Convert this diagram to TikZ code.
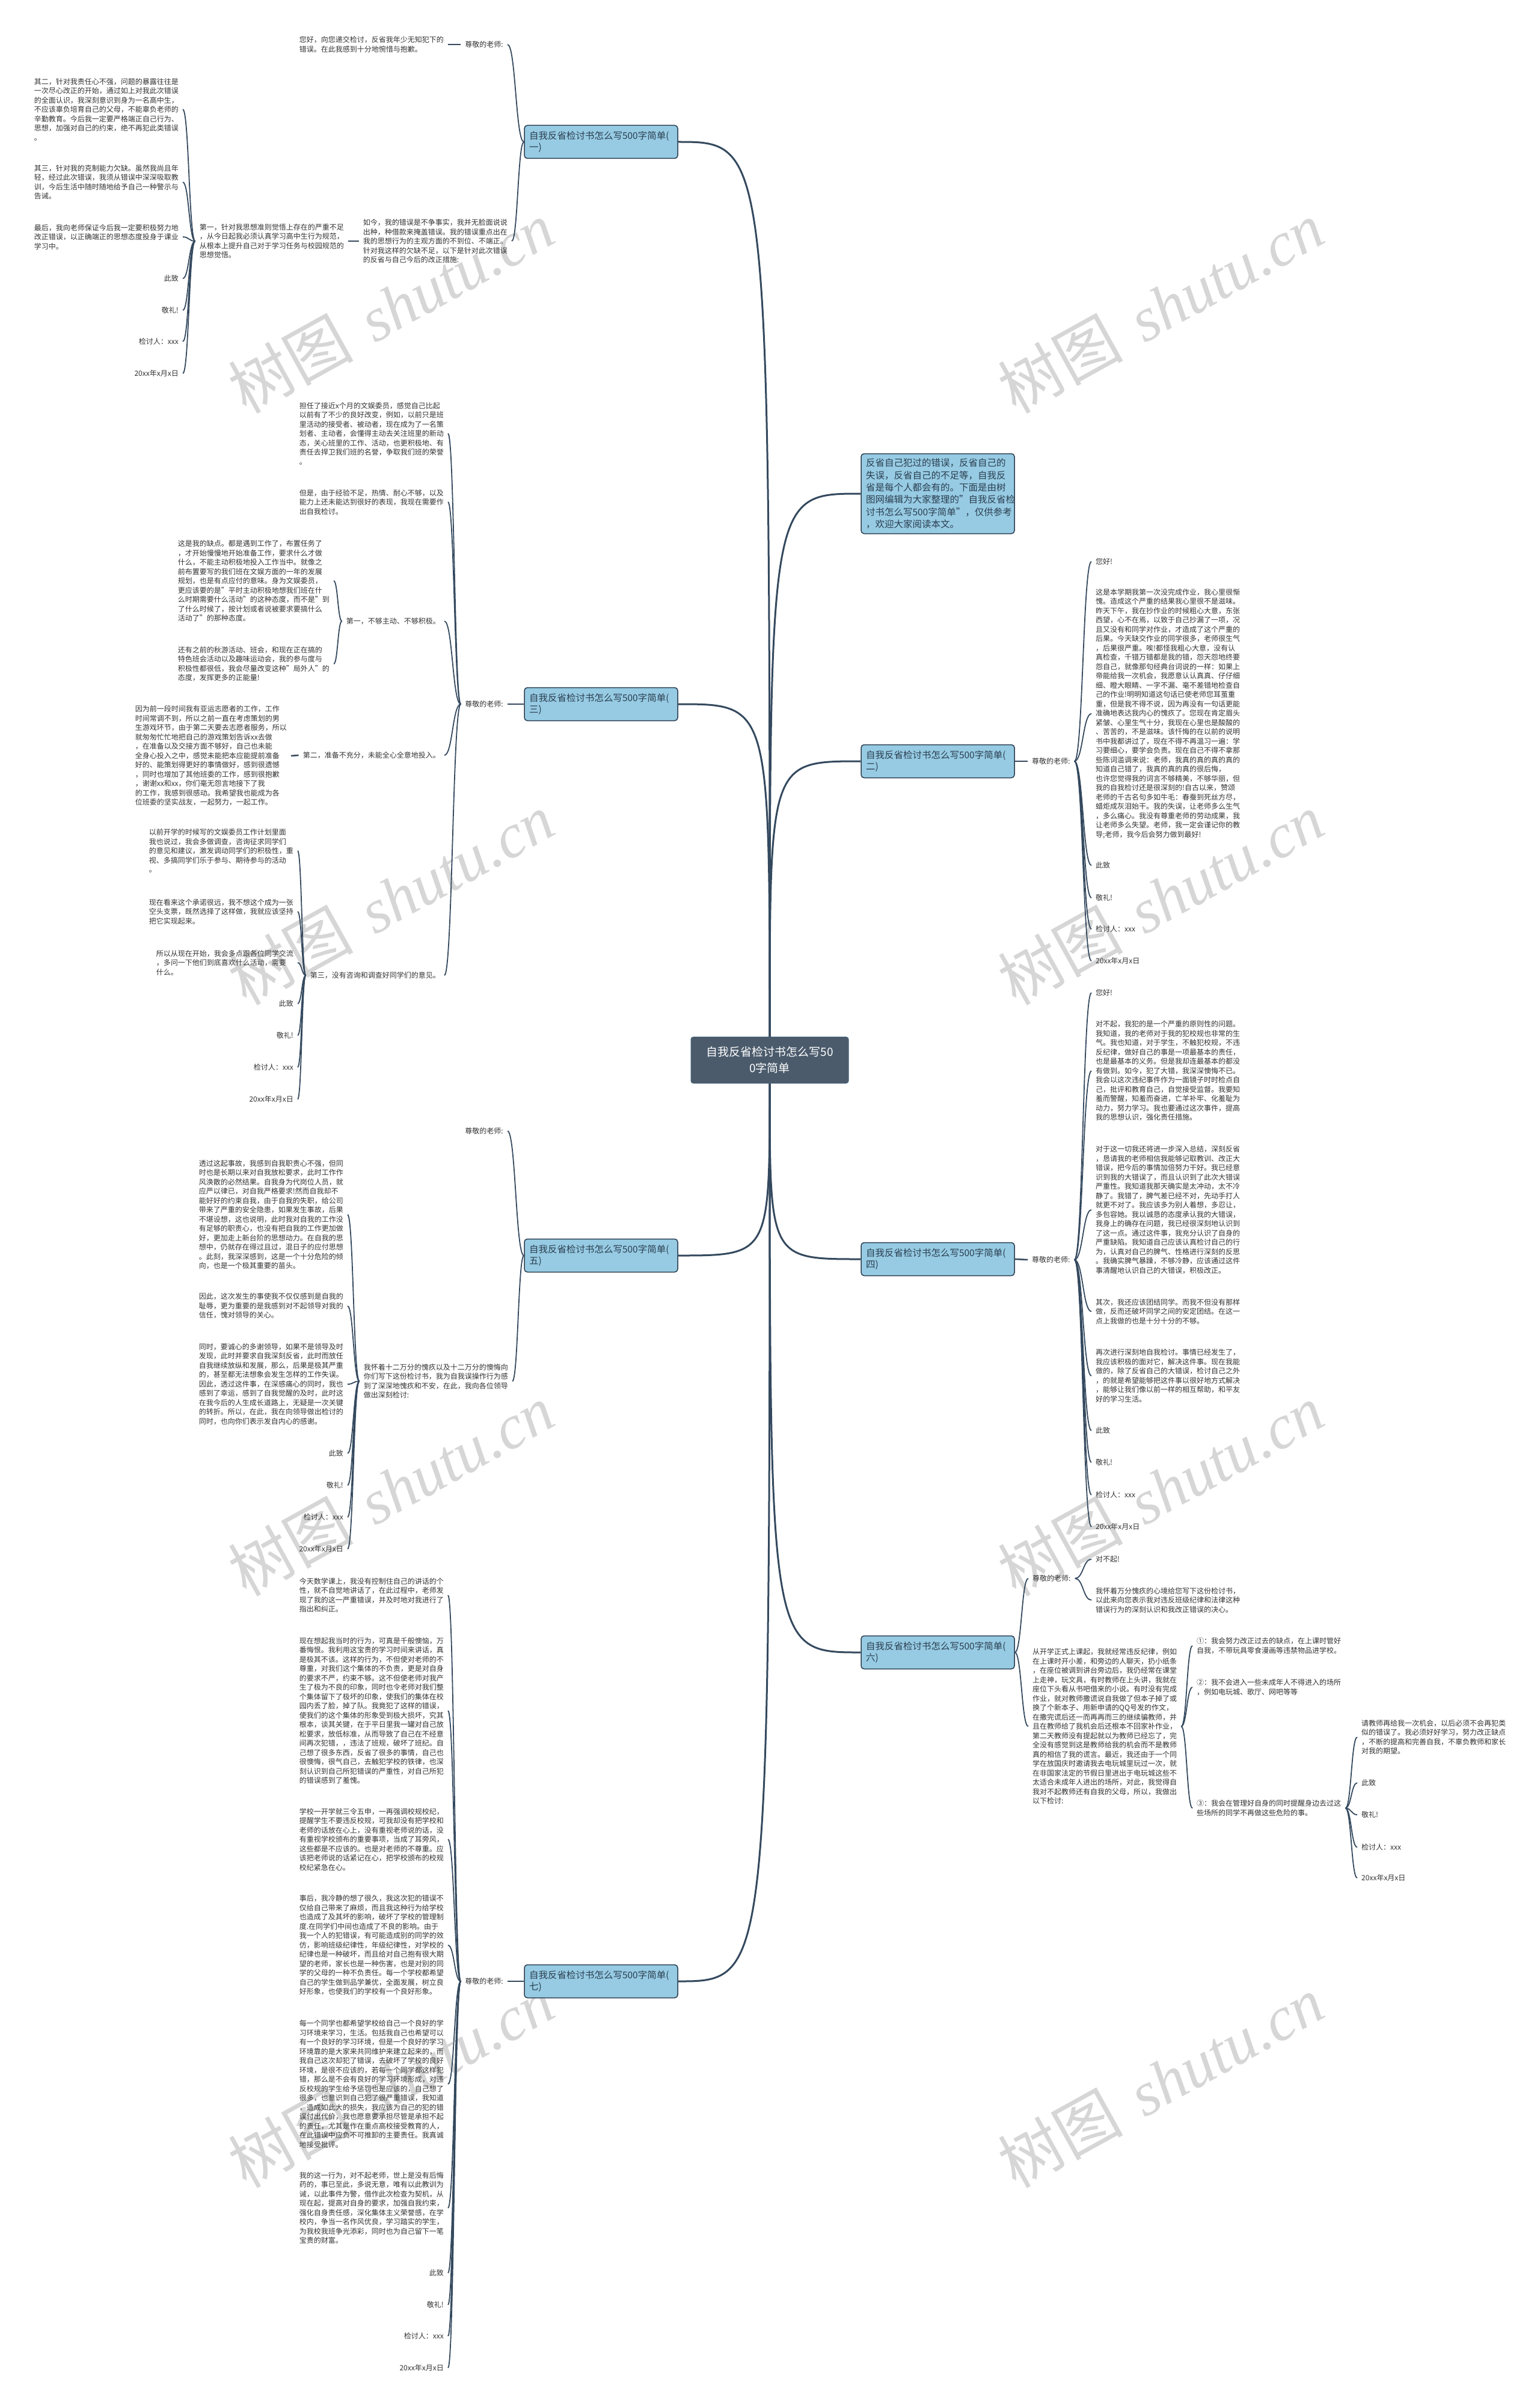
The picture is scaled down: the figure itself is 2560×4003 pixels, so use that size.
\documentclass[tikz,border=0pt]{standalone}
\usepackage{fontspec}
\setmainfont{Noto Sans CJK SC}
\newfontfamily\wmlat{Liberation Serif}
\usetikzlibrary{calc}
\definecolor{lc}{HTML}{34495E}
\definecolor{rootfill}{HTML}{4B5B6C}
\definecolor{bfill}{HTML}{96CBE3}
\definecolor{bdraw}{HTML}{2C3E50}
\definecolor{tc}{HTML}{333333}
\definecolor{wmc}{HTML}{D6D6D6}
\newcommand\sconn[2]{\draw[subc] let \p1=(#1), \p2=(#2) in (\p1) .. controls ({0.5*\x1+0.5*\x2},\y1) and ({0.5*\x1+0.5*\x2},\y2) .. (\p2);}
\begin{document}
\begin{tikzpicture}[x=1pt,y=-1pt,
  txt/.style={inner xsep=7pt, inner ysep=1pt, align=left, text=tc, font=\fontsize{12}{15.5}\selectfont},
  lt/.style={txt, anchor=east},
  rt/.style={txt, anchor=west},
  bbox/.style={draw=bdraw, line width=1.5pt, fill=bfill, rounded corners=5pt, minimum width=255pt, minimum height=55pt, text width=239pt, inner xsep=8pt, inner ysep=6pt, align=left, text=bdraw, font=\fontsize{15.5}{19}\selectfont},
  rootbox/.style={draw=bdraw!70!bfill, line width=1pt, fill=rootfill, rounded corners=4pt, minimum width=262pt, minimum height=77pt, align=center, text=white, font=\fontsize{19}{27}\selectfont},
  mainc/.style={draw=lc, line width=3pt},
  subc/.style={draw=lc, line width=1.8pt},
  stub/.style={draw=lc, line width=2.5pt},
  wm/.style={text=wmc, font=\fontsize{104}{104}\selectfont, rotate=29, inner sep=0pt}
]
\useasboundingbox (0,0) rectangle (2560,4003);
\fill[white] (0,0) rectangle (2560,4003);

% watermarks
\foreach \wx in {650,1930} {
  \foreach \wy in {511,1495,2478,3462} {
    \node[wm] at (\wx,\wy) {树图\hspace{0.35em}{\wmlat\itshape shutu.cn}};
  }
}

% root and branches
\node[rootbox] (root) at (1280,1763) {自我反省检讨书怎么写50\\0字简单};
\node[bbox] (b1) at (999.5,236) {自我反省检讨书怎么写500字简单(\\一)};
\node[bbox] (b3) at (999.5,1171) {自我反省检讨书怎么写500字简单(\\三)};
\node[bbox] (b5) at (999.5,2088) {自我反省检讨书怎么写500字简单(\\五)};
\node[bbox] (b7) at (999.5,3295) {自我反省检讨书怎么写500字简单(\\七)};
\node[bbox, minimum height=133pt, font=\fontsize{15.5}{20.4}\selectfont] (bi) at (1559.5,821) {反省自己犯过的错误，反省自己的\\失误，反省自己的不足等，自我反\\省是每个人都会有的。下面是由树\\图网编辑为大家整理的"自我反省检\\讨书怎么写500字简单"，仅供参考\\，欢迎大家阅读本文。};
\node[bbox] (b2) at (1559.5,1266) {自我反省检讨书怎么写500字简单(\\二)};
\node[bbox] (b4) at (1559.5,2094) {自我反省检讨书怎么写500字简单(\\四)};
\node[bbox] (b6) at (1559.5,2748) {自我反省检讨书怎么写500字简单(\\六)};

\draw[mainc] (root.north) .. controls (root.north |- b1.east) .. (b1.east);
\draw[mainc] (root.north) .. controls (root.north |- b3.east) .. (b3.east);
\draw[mainc] (root.north) .. controls (root.north |- bi.west) .. (bi.west);
\draw[mainc] (root.north) .. controls (root.north |- b2.west) .. (b2.west);
\draw[mainc] (root.south) .. controls (root.south |- b4.west) .. (b4.west);
\draw[mainc] (root.south) .. controls (root.south |- b5.east) .. (b5.east);
\draw[mainc] (root.south) .. controls (root.south |- b6.west) .. (b6.west);
\draw[mainc] (root.south) .. controls (root.south |- b7.east) .. (b7.east);

% ---------- branch 1 ----------
\node[lt] (n1a) at (844,74) {尊敬的老师:};
\node[lt] (n1a1) at (745,74) {您好，向您递交检讨，反省我年少无知犯下的\\错误。在此我感到十分地惋惜与抱歉。};
\node[lt] (n1b) at (851,401) {如今，我的错误是不争事实，我并无脸面说说\\出种，种借款来掩盖错误。我的错误重点出在\\我的思想行为的主观方面的不到位、不端正。\\针对我这样的欠缺不足，以下是针对此次错误\\的反省与自己今后的改正措施:};
\node[lt] (n1b1) at (579,401) {第一，针对我思想准则觉悟上存在的严重不足\\，从今日起我必须认真学习高中生行为规范，\\从根本上提升自己对于学习任务与校园规范的\\思想觉悟。};
\node[lt] (p1a) at (304,182) {其二，针对我责任心不强，问题的暴露往往是\\一次尽心改正的开始，通过如上对我此次错误\\的全面认识，我深刻意识到身为一名高中生，\\不应该辜负培育自己的父母，不能辜负老师的\\辛勤教育。今后我一定要严格端正自己行为、\\思想，加强对自己的约束，绝不再犯此类错误\\。};
\node[lt] (p1b) at (304,303) {其三，针对我的克制能力欠缺。虽然我尚且年\\轻，经过此次错误，我须从错误中深深吸取教\\训，今后生活中随时随地给予自己一种警示与\\告诫。};
\node[lt] (p1c) at (304,394) {最后，我向老师保证今后我一定要积极努力地\\改正错误，以正确端正的思想态度投身于课业\\学习中。};
\node[lt] (q1a) at (304,463) {此致};
\node[lt] (q1b) at (304,516) {敬礼!};
\node[lt] (q1c) at (304,568) {检讨人：xxx};
\node[lt] (q1d) at (304,621) {20xx年x月x日};
\sconn{b1.west}{n1a.east}
\sconn{b1.west}{n1b.east}
\draw[stub] (n1a.west) -- (n1a1.east);
\draw[stub] (n1b.west) -- (n1b1.east);
\foreach \c in {p1a,p1b,p1c,q1a,q1b,q1c,q1d} {\sconn{n1b1.west}{\c.east}}

% ---------- branch 3 ----------
\node[lt] (n3a) at (844,1171) {尊敬的老师:};
\node[lt] (p3a) at (745,721) {担任了接近x个月的文娱委员，感觉自己比起\\以前有了不少的良好改变，例如，以前只是班\\里活动的接受者、被动者，现在成为了一名策\\划者、主动者，会懂得主动去关注班里的新动\\态，关心班里的工作、活动，也更积极地、有\\责任去捍卫我们班的名誉，争取我们班的荣誉\\。};
\node[lt] (p3b) at (745,835) {但是，由于经验不足，热情、耐心不够，以及\\能力上还未能达到很好的表现，我现在需要作\\出自我检讨。};
\node[lt] (p3c) at (739,1033) {第一，不够主动、不够积极。};
\node[lt] (p3d) at (739,1256) {第二，准备不充分，未能全心全意地投入。};
\node[lt] (p3e) at (739,1622) {第三，没有咨询和调查好同学们的意见。};
\node[lt] (p3c1) at (555,966) {这是我的缺点。都是遇到工作了，布置任务了\\，才开始慢慢地开始准备工作，要求什么才做\\什么，不能主动积极地投入工作当中。就像之\\前布置要写的我们班在文娱方面的一年的发展\\规划，也是有点应付的意味。身为文娱委员，\\更应该要的是"平时主动积极地想我们班在什\\么时期需要什么活动"的这种态度，而不是"到\\了什么时候了，按计划或者说被要求要搞什么\\活动了"的那种态度。};
\node[lt] (p3c2) at (555,1104) {还有之前的秋游活动、班会，和现在正在搞的\\特色班会活动以及趣味运动会，我的参与度与\\积极性都很低，我会尽量改变这种"局外人"的\\态度，发挥更多的正能量!};
\node[lt] (p3d1) at (484,1257) {因为前一段时间我有亚运志愿者的工作，工作\\时间常调不到，所以之前一直在考虑策划的男\\生游戏环节，由于第二天要去志愿者服务，所以\\就匆匆忙忙地把自己的游戏策划告诉xx去做\\，在准备以及交接方面不够好，自己也未能\\全身心投入之中，感觉未能把本应能提前准备\\好的、能策划得更好的事情做好，感到很遗憾\\，同时也增加了其他班委的工作，感到很抱歉\\，谢谢xx和xx，你们毫无怨言地接下了我\\的工作，我感到很感动。我希望我也能成为各\\位班委的坚实战友，一起努力，一起工作。};
\node[lt] (p3e1) at (495,1415) {以前开学的时候写的文娱委员工作计划里面\\我也说过，我会多做调查，咨询征求同学们\\的意见和建议，激发调动同学们的积极性，重\\视、多搞同学们乐于参与、期待参与的活动\\。};
\node[lt] (p3e2) at (495,1516) {现在看来这个承诺很远，我不想这个成为一张\\空头支票，既然选择了这样做，我就应该坚持\\把它实现起来。};
\node[lt] (p3e3) at (495,1601) {所以从现在开始，我会多点跟各位同学交流\\，多问一下他们到底喜欢什么活动，需要\\什么。};
\node[lt] (q3a) at (495,1669) {此致};
\node[lt] (q3b) at (495,1722) {敬礼!};
\node[lt] (q3c) at (495,1775) {检讨人：xxx};
\node[lt] (q3d) at (495,1828) {20xx年x月x日};
\draw[stub] (b3.west) -- (n3a.east);
\foreach \c in {p3a,p3b,p3c,p3d,p3e} {\sconn{n3a.west}{\c.east}}
\foreach \c in {p3c1,p3c2} {\sconn{p3c.west}{\c.east}}
\draw[stub] (p3d.west) -- (p3d1.east);
\foreach \c in {p3e1,p3e2,p3e3,q3a,q3b,q3c,q3d} {\sconn{p3e.west}{\c.east}}

% ---------- branch 5 ----------
\node[lt] (n5a) at (844,1881) {尊敬的老师:};
\node[lt] (n5b) at (852,2297) {我怀着十二万分的愧疚以及十二万分的懊悔向\\你们写下这份检讨书，我为自我误操作行为感\\到了深深地愧疚和不安，在此，我向各位领导\\做出深刻检讨:};
\node[lt] (p5a) at (578,2020) {透过这起事故，我感到自我职责心不强，但同\\时也是长期以来对自我放松要求，此时工作作\\风涣散的必然结果。自我身为代岗位人员，就\\应严以律已，对自我严格要求!然而自我却不\\能好好的约束自我，由于自我的失职，给公司\\带来了严重的安全隐患，如果发生事故，后果\\不堪设想，这也说明，此时我对自我的工作没\\有足够的职责心，也没有把自我的工作更加做\\好，更加走上新台阶的思想动力。在自我的思\\想中，仍就存在得过且过，混日子的应付思想\\。此刻，我深深感到，这是一个十分危险的倾\\向，也是一个极其重要的苗头。};
\node[lt] (p5b) at (578,2172) {因此，这次发生的事使我不仅仅感到是自我的\\耻辱，更为重要的是我感到对不起领导对我的\\信任，愧对领导的关心。};
\node[lt] (p5c) at (578,2302) {同时，要诚心的多谢领导，如果不是领导及时\\发现，此时并要求自我深刻反省，此时而放任\\自我继续放纵和发展，那么，后果是极其严重\\的，甚至都无法想象会发生怎样的工作失误。\\因此，透过这件事，在深感痛心的同时，我也\\感到了幸运，感到了自我觉醒的及时，此时这\\在我今后的人生成长道路上，无疑是一次关键\\的转折。所以，在此，我在向领导做出检讨的\\同时，也向你们表示发自内心的感谢。};
\node[lt] (q5a) at (578,2417) {此致};
\node[lt] (q5b) at (578,2470) {敬礼!};
\node[lt] (q5c) at (578,2523) {检讨人：xxx};
\node[lt] (q5d) at (578,2576) {20xx年x月x日};
\sconn{b5.west}{n5a.east}
\sconn{b5.west}{n5b.east}
\foreach \c in {p5a,p5b,p5c,q5a,q5b,q5c,q5d} {\sconn{n5b.west}{\c.east}}

% ---------- branch 7 ----------
\node[lt] (n7a) at (844,3295) {尊敬的老师:};
\node[lt] (p7a) at (745,2653) {今天数学课上，我没有控制住自己的讲话的个\\性，就不自觉地讲话了，在此过程中，老师发\\现了我的这一严重错误，并及时地对我进行了\\指出和纠正。};
\node[lt] (p7b) at (745,2845) {现在想起我当时的行为，可真是千般懊恼，万\\番悔恨。我利用这宝贵的学习时间来讲话，真\\是极其不该。这样的行为，不但使对老师的不\\尊重，对我们这个集体的不负责，更是对自身\\的要求不严，约束不够。这不但使老师对我产\\生了极为不良的印象，同时也令老师对我们整\\个集体留下了极坏的印象，使我们的集体在校\\园内丢了脸，掉了队。我竟犯了这样的错误，\\使我们的这个集体的形象受到极大损坏，究其\\根本，谈其关键，在于平日里我一罐对自己放\\松要求，放低标准，从而导致了自己在不经意\\间再次犯错，，违法了班规，破坏了班纪。自\\己想了很多东西，反省了很多的事情，自己也\\很懊悔，很气自己，去触犯学校的铁律，也深\\刻认识到自己所犯错误的严重性，对自己所犯\\的错误感到了羞愧。};
\node[lt] (p7c) at (745,3059) {学校一开学就三令五申，一再强调校规校纪，\\提醒学生不要违反校规，可我却没有把学校和\\老师的话放在心上，没有重视老师说的话，没\\有重视学校颁布的重要事项，当成了耳旁风，\\这些都是不应该的。也是对老师的不尊重。应\\该把老师说的话紧记在心，把学校颁布的校规\\校纪紧急在心。};
\node[lt] (p7d) at (745,3235) {事后，我冷静的想了很久，我这次犯的错误不\\仅给自己带来了麻烦，而且我这种行为给学校\\也造成了及其坏的影响，破坏了学校的管理制\\度.在同学们中间也造成了不良的影响。由于\\我一个人的犯错误，有可能造成别的同学的效\\仿，影响班级纪律性，年级纪律性，对学校的\\纪律也是一种破坏，而且给对自己抱有很大期\\望的老师，家长也是一种伤害，也是对别的同\\学的父母的一种不负责任。每一个学校都希望\\自己的学生做到品学兼优，全面发展，树立良\\好形象，也使我们的学校有一个良好形象。};
\node[lt] (p7e) at (745,3466) {每一个同学也都希望学校给自己一个良好的学\\习环境来学习，生活。包括我自己也希望可以\\有一个良好的学习环境，但是一个良好的学习\\环境靠的是大家来共同维护来建立起来的，而\\我自己这次却犯了错误，去破坏了学校的良好\\环境，是很不应该的，若每一个同学都这样犯\\错，那么是不会有良好的学习环境形成，对违\\反校规的学生给予惩罚也是应该的，自己想了\\很多，也意识到自己犯了很严重错误，我知道\\，造成如此大的损失，我应该为自己的犯的错\\误付出代价，我也愿意要承担尽管是承担不起\\的责任，尤其是作在重点高校接受教育的人，\\在此错误中应负不可推卸的主要责任。我真诚\\地接受批评。};
\node[lt] (p7f) at (745,3672) {我的这一行为，对不起老师，世上是没有后悔\\药的，事已至此，多说无意，唯有以此教训为\\诫，以此事件为警，借作此次检查为契机，从\\现在起，提高对自身的要求，加强自我约束，\\强化自身责任感，深化集体主义荣誉感，在学\\校内，争当一名作风优良，学习踏实的学生，\\为我校我班争光添彩，同时也为自己留下一笔\\宝贵的财富。};
\node[lt] (q7a) at (745,3780) {此致};
\node[lt] (q7b) at (745,3833) {敬礼!};
\node[lt] (q7c) at (745,3885) {检讨人：xxx};
\node[lt] (q7d) at (745,3938) {20xx年x月x日};
\draw[stub] (b7.west) -- (n7a.east);
\foreach \c in {p7a,p7b,p7c,p7d,p7e,p7f,q7a,q7b,q7c,q7d} {\sconn{n7a.west}{\c.east}}

% ---------- branch 2 ----------
\node[rt] (n2a) at (1709,1266) {尊敬的老师:};
\node[rt] (r2a) at (1815,934) {您好!};
\node[rt] (r2b) at (1815,1187) {这是本学期我第一次没完成作业，我心里很惭\\愧。造成这个严重的结果我心里很不是滋味。\\昨天下午，我在抄作业的时候粗心大意，东张\\西望，心不在焉，以致于自己抄漏了一项，况\\且又没有和同学对作业，才造成了这个严重的\\后果。今天缺交作业的同学很多，老师很生气\\，后果很严重。唉!都怪我粗心大意，没有认\\真检查，千错万错都是我的错，怨天怨地终要\\怨自己，就像那句经典台词说的一样：如果上\\帝能给我一次机会，我愿意认认真真、仔仔细\\细、瞪大眼睛、一字不漏、毫不差错地检查自\\己的作业!明明知道这句话已使老师您耳茧重\\重，但是我不得不说，因为再没有一句话更能\\准确地表达我内心的愧疚了。您现在肯定眉头\\紧皱、心里生气十分，我现在心里也是酸酸的\\、苦苦的，不是滋味。该忏悔的在以前的说明\\书中我都讲过了，现在不得不再温习一遍：学\\习要细心，要学会负责。现在自己不得不拿那\\些陈词滥调来说：老师，我真的真的真的真的\\知道自己错了，我真的真的真的很后悔，\\也许您觉得我的词言不够精美，不够华丽，但\\我的自我检讨还是很深刻的!自古以来，赞颂\\老师的千古名句多如牛毛：春蚕到死丝方尽，\\蜡炬成灰泪始干。我的失误，让老师多么生气\\，多么痛心。我没有尊重老师的劳动成果，我\\让老师多么失望。老师，我一定会谨记你的教\\导;老师，我今后会努力做到最好!};
\node[rt] (s2a) at (1815,1439) {此致};
\node[rt] (s2b) at (1815,1493) {敬礼!};
\node[rt] (s2c) at (1815,1545) {检讨人：xxx};
\node[rt] (s2d) at (1815,1598) {20xx年x月x日};
\draw[stub] (b2.east) -- (n2a.west);
\foreach \c in {r2a,r2b,s2a,s2b,s2c,s2d} {\sconn{n2a.east}{\c.west}}

% ---------- branch 4 ----------
\node[rt] (n4a) at (1709,2095) {尊敬的老师:};
\node[rt] (r4a) at (1815,1651) {您好!};
\node[rt] (r4b) at (1815,1781) {对不起，我犯的是一个严重的原则性的问题。\\我知道，我的老师对于我的犯校规也非常的生\\气。我也知道，对于学生，不触犯校规，不违\\反纪律，做好自己的事是一项最基本的责任，\\也是最基本的义务。但是我却连最基本的都没\\有做到。如今，犯了大错，我深深懊悔不已。\\我会以这次违纪事件作为一面镜子时时检点自\\己，批评和教育自己，自觉接受监督。我要知\\羞而警醒，知羞而奋进，亡羊补牢、化羞耻为\\动力，努力学习。我也要通过这次事件，提高\\我的思想认识，强化责任措施。};
\node[rt] (r4c) at (1815,2012) {对于这一切我还将进一步深入总结，深刻反省\\，恳请我的老师相信我能够记取教训、改正大\\错误，把今后的事情加倍努力干好。我已经意\\识到我的大错误了，而且认识到了此次大错误\\严重性。我知道我那天确实是太冲动，太不冷\\静了。我错了，脾气差已经不对，先动手打人\\就更不对了。我应该多为别人着想，多忍让，\\多包容她。我以诚恳的态度承认我的大错误，\\我身上的确存在问题，我已经很深刻地认识到\\了这一点。通过这件事，我充分认识了自身的\\严重缺陷。我知道自己应该认真检讨自己的行\\为，认真对自己的脾气、性格进行深刻的反思\\。我确实脾气暴躁，不够冷静，应该通过这件\\事清醒地认识自己的大错误，积极改正。};
\node[rt] (r4d) at (1815,2181) {其次，我还应该团结同学。而我不但没有那样\\做，反而还破坏同学之间的安定团结。在这一\\点上我做的也是十分十分的不够。};
\node[rt] (r4e) at (1815,2288) {再次进行深刻地自我检讨。事情已经发生了，\\我应该积极的面对它，解决这件事。现在我能\\做的，除了反省自己的大错误，检讨自己之外\\，的就是希望能够把这件事以很好地方式解决\\，能够让我们像以前一样的相互帮助，和平友\\好的学习生活。};
\node[rt] (s4a) at (1815,2379) {此致};
\node[rt] (s4b) at (1815,2432) {敬礼!};
\node[rt] (s4c) at (1815,2486) {检讨人：xxx};
\node[rt] (s4d) at (1815,2539) {20xx年x月x日};
\draw[stub] (b4.east) -- (n4a.west);
\foreach \c in {r4a,r4b,r4c,r4d,r4e,s4a,s4b,s4c,s4d} {\sconn{n4a.east}{\c.west}}

% ---------- branch 6 ----------
\node[rt] (n6a) at (1710,2625) {尊敬的老师:};
\node[rt] (n6b) at (1710,2871) {从开学正式上课起，我就经常违反纪律，例如\\在上课时开小差，和旁边的人聊天，扔小纸条\\，在座位被调到讲台旁边后，我仍经常在课堂\\上走神，玩文具，有时教师在上头讲，我就在\\座位下头看从书吧借来的小说。有时没有完成\\作业，就对教师撒谎说自我做了但本子掉了或\\换了个新本子、用新申请的QQ号发的作文，\\在撒完谎后还一而再再而三的继续骗教师，并\\且在教师给了我机会后还根本不回家补作业，\\第二天教师没有提起就以为教师已经忘了，完\\全没有感觉到这是教师给我的机会而不是教师\\真的相信了我的谎言。最近，我还由于一个同\\学在放国庆时邀请我去电玩城里玩过一次，就\\在非国家法定的节假日里进出于电玩城这些不\\太适合未成年人进出的场所，对此，我觉得自\\我对不起教师还有自我的父母，所以，我做出\\以下检讨:};
\node[rt] (r6a) at (1815,2593) {对不起!};
\node[rt] (r6b) at (1815,2661) {我怀着万分愧疚的心境给您写下这份检讨书，\\以此来向您表示我对违反班级纪律和法律这种\\错误行为的深刻认识和我改正错误的决心。};
\node[rt] (r6c) at (1983,2737) {①：我会努力改正过去的缺点，在上课时管好\\自我，不带玩具零食漫画等违禁物品进学校。};
\node[rt] (r6d) at (1983,2806) {②：我不会进入一些未成年人不得进入的场所\\，例如电玩城、歌厅、网吧等等};
\node[rt] (r6e) at (1983,3007) {③：我会在管理好自身的同时提醒身边去过这\\些场所的同学不再做这些危险的事。};
\node[rt] (r6f) at (2257,2889) {请教师再给我一次机会，以后必须不会再犯类\\似的错误了。我必须好好学习，努力改正缺点\\，不断的提高和完善自我，不辜负教师和家长\\对我的期望。};
\node[rt] (s6a) at (2257,2965) {此致};
\node[rt] (s6b) at (2257,3018) {敬礼!};
\node[rt] (s6c) at (2257,3072) {检讨人：xxx};
\node[rt] (s6d) at (2257,3123) {20xx年x月x日};
\sconn{b6.east}{n6a.west}
\sconn{b6.east}{n6b.west}
\foreach \c in {r6a,r6b} {\sconn{n6a.east}{\c.west}}
\foreach \c in {r6c,r6d,r6e} {\sconn{n6b.east}{\c.west}}
\foreach \c in {r6f,s6a,s6b,s6c,s6d} {\sconn{r6e.east}{\c.west}}
\end{tikzpicture}
\end{document}
